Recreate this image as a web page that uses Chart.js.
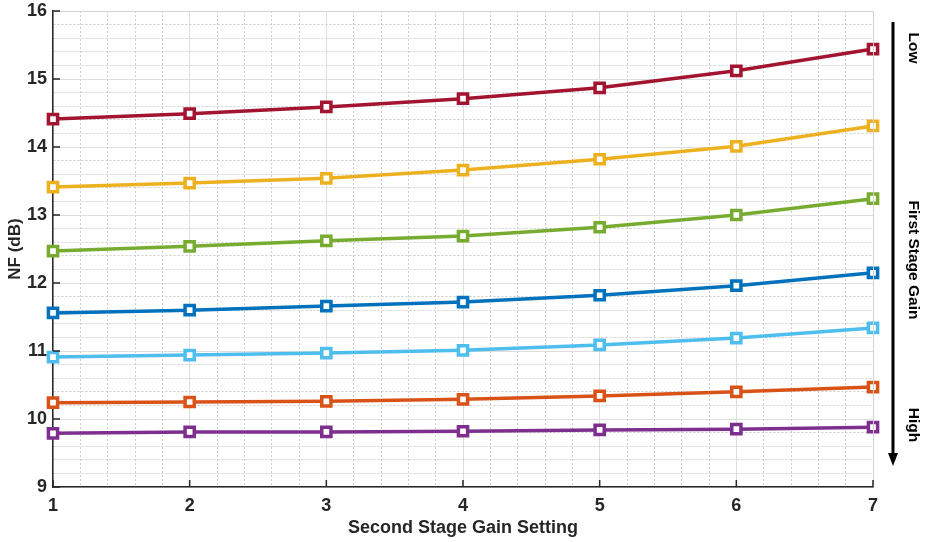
<!DOCTYPE html>
<html>
<head>
<meta charset="utf-8">
<script src="https://cdn.jsdelivr.net/npm/chart.js@4.4.1/dist/chart.umd.min.js"></script>
<style>
    html, body { margin: 0; padding: 0; background: #ffffff; }
    #wrap { position: relative; width: 925px; height: 542px; }
</style>
</head>
<body>
<div id="wrap"><canvas id="nfChart"></canvas></div>
<script>
// Second stage gain settings (x axis)
const gainSettings = [1, 2, 3, 4, 5, 6, 7];

// NF per first stage gain, low gain on top
const nfLow   = [14.41, 14.49, 14.59, 14.71, 14.87, 15.12, 15.44];
const nfGain2 = [13.41, 13.47, 13.54, 13.66, 13.82, 14.01, 14.31];
const nfGain3 = [12.47, 12.54, 12.62, 12.69, 12.82, 13.00, 13.24];
const nfGain4 = [11.56, 11.60, 11.66, 11.72, 11.82, 11.96, 12.15];
const nfGain5 = [10.91, 10.94, 10.97, 11.01, 11.09, 11.19, 11.34];
const nfGain6 = [10.24, 10.25, 10.26, 10.29, 10.34, 10.40, 10.47];
const nfHigh  = [9.79, 9.81, 9.81, 9.82, 9.84, 9.85, 9.88];

const seriesValues = [nfLow, nfGain2, nfGain3, nfGain4, nfGain5, nfGain6, nfHigh];
const seriesColors = ["#a2142f", "#edb120", "#77ac30", "#0072bd", "#4dbeee", "#d95319", "#7e2f8e"];

const xTitle = "Second Stage Gain Setting";
const yTitle = "NF (dB)";
const sideLabels = ["Low", "First Stage Gain", "High"];

const FONT = "'Liberation Sans', Arial, Helvetica, sans-serif";
const AXIS_DARK = "#262626";

function isMajor(value) {
    return Math.abs(value - Math.round(value)) < 1e-6;
}

const datasets = seriesValues.map((values, i) => ({
    data: values.map((v, j) => ({ x: gainSettings[j], y: v })),
    borderColor: seriesColors[i],
    backgroundColor: "#ffffff",
    borderWidth: 3.5,
    pointStyle: "rect",
    pointRadius: 6.5,
    pointHoverRadius: 6.5,
    pointBorderWidth: 3.5,
    pointBackgroundColor: "#ffffff",
    pointBorderColor: seriesColors[i],
    clip: false,
    tension: 0
}));

// frame: light top/right edge, inward integer ticks on left/bottom, side arrow
const framePlugin = {
    id: "matlabFrame",
    afterDraw(chart) {
        const { ctx, chartArea } = chart;
        const xs = chart.scales.x;
        const ys = chart.scales.y;
        ctx.save();

        ctx.strokeStyle = "#d2d2d2";
        ctx.lineWidth = 1;
        ctx.beginPath();
        ctx.moveTo(chartArea.left, chartArea.top + 0.5);
        ctx.lineTo(chartArea.right + 0.5, chartArea.top + 0.5);
        ctx.lineTo(chartArea.right + 0.5, chartArea.bottom);
        ctx.stroke();

        ctx.strokeStyle = AXIS_DARK;
        ctx.lineWidth = 1.5;
        ctx.beginPath();
        for (let v = 1; v <= 7; v++) {
            const px = xs.getPixelForValue(v);
            ctx.moveTo(px, chartArea.bottom);
            ctx.lineTo(px, chartArea.bottom - 7);
        }
        for (let v = 9; v <= 16; v++) {
            const py = ys.getPixelForValue(v);
            ctx.moveTo(chartArea.left, py);
            ctx.lineTo(chartArea.left + 7, py);
        }
        ctx.stroke();

        // arrow on the right
        const ax = 893;
        const top = 22;
        const tip = 466;
        ctx.strokeStyle = "#000000";
        ctx.fillStyle = "#000000";
        ctx.lineWidth = 3;
        ctx.beginPath();
        ctx.moveTo(ax, top);
        ctx.lineTo(ax, tip - 10);
        ctx.stroke();
        ctx.beginPath();
        ctx.moveTo(ax - 5, tip - 13);
        ctx.lineTo(ax + 5, tip - 13);
        ctx.lineTo(ax, tip);
        ctx.closePath();
        ctx.fill();

        ctx.font = "bold 15.5px " + FONT;
        ctx.textAlign = "center";
        ctx.textBaseline = "middle";
        const labelY = [48, 260, 425];
        sideLabels.forEach((txt, i) => {
            ctx.save();
            ctx.translate(913, labelY[i]);
            ctx.rotate(Math.PI / 2);
            ctx.fillText(txt, 0, 0);
            ctx.restore();
        });

        ctx.restore();
    }
};

new Chart(document.getElementById("nfChart"), {
    type: "line",
    data: { datasets },
    options: {
        responsive: true,
        maintainAspectRatio: false,
        animation: false,
        events: [],
        layout: {
            padding: { top: 11, right: 52, bottom: 0, left: 0 }
        },
        plugins: {
            legend: { display: false },
            tooltip: { enabled: false }
        },
        scales: {
            x: {
                type: "linear",
                min: 1,
                max: 7,
                afterFit(scale) {
                    scale.height = 55;
                    scale.paddingLeft = 0;
                    scale.paddingRight = 0;
                },
                ticks: {
                    stepSize: 0.2,
                    autoSkip: false,
                    maxRotation: 0,
                    padding: 8,
                    color: AXIS_DARK,
                    font: { family: FONT, size: 18, weight: "bold" },
                    callback: v => (isMajor(v) ? String(Math.round(v)) : "")
                },
                grid: {
                    drawTicks: false,
                    lineWidth: 1,
                    color: ctx => (ctx.tick && isMajor(ctx.tick.value) ? "#dedede" : "#cdcdcd")
                },
                border: {
                    display: true,
                    color: AXIS_DARK,
                    width: 1.5,
                    dash: ctx => (ctx.tick && !isMajor(ctx.tick.value) ? [2, 2] : [])
                },
                title: {
                    display: true,
                    text: xTitle,
                    color: AXIS_DARK,
                    font: { family: FONT, size: 18, weight: "bold" },
                    padding: { top: 0, bottom: 3 }
                }
            },
            y: {
                type: "linear",
                min: 9,
                max: 16,
                afterFit(scale) {
                    scale.width = 53;
                    scale.paddingTop = 0;
                    scale.paddingBottom = 0;
                },
                ticks: {
                    stepSize: 0.2,
                    autoSkip: false,
                    padding: 6,
                    color: AXIS_DARK,
                    font: { family: FONT, size: 18, weight: "bold" },
                    callback: v => (isMajor(v) ? String(Math.round(v)) : "")
                },
                grid: {
                    drawTicks: false,
                    lineWidth: 1,
                    color: ctx => (ctx.tick && isMajor(ctx.tick.value) ? "#dedede" : "#cdcdcd")
                },
                border: {
                    display: true,
                    color: AXIS_DARK,
                    width: 1.5,
                    dash: ctx => (ctx.tick && !isMajor(ctx.tick.value) ? [2, 2] : [])
                },
                title: {
                    display: true,
                    text: yTitle,
                    color: AXIS_DARK,
                    font: { family: FONT, size: 17, weight: "bold" },
                    padding: { top: 5, bottom: 0 }
                }
            }
        }
    },
    plugins: [framePlugin]
});
</script>
</body>
</html>
